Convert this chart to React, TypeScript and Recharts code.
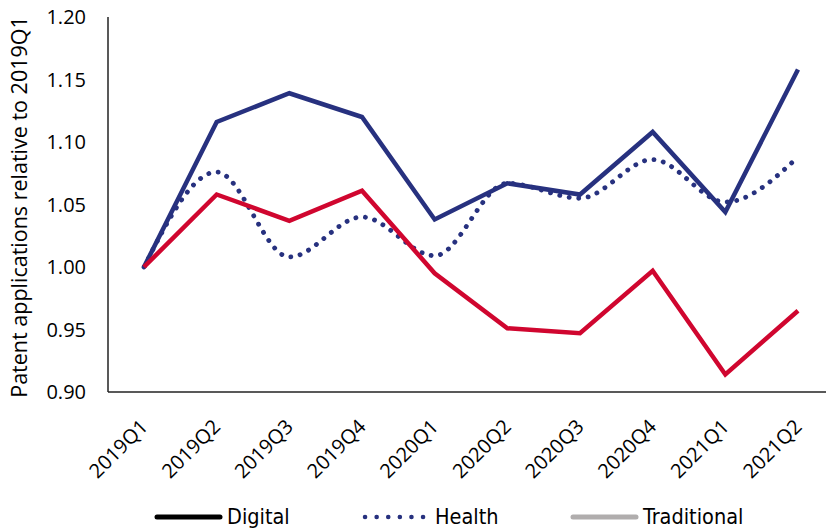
import { LineChart, Line, XAxis, YAxis, Legend } from 'recharts';

const quarters = ['2019Q1', '2019Q2', '2019Q3', '2019Q4', '2020Q1', '2020Q2', '2020Q3', '2020Q4', '2021Q1', '2021Q2'];
const digital = [1.0, 1.116, 1.139, 1.12, 1.038, 1.067, 1.058, 1.108, 1.044, 1.158];
const health = [1.0, 1.076, 1.008, 1.04, 1.009, 1.067, 1.055, 1.086, 1.052, 1.088];
const traditional = [1.0, 1.058, 1.037, 1.061, 0.995, 0.951, 0.947, 0.997, 0.914, 0.965];
const yTicks = [0.9, 0.95, 1.0, 1.05, 1.1, 1.15, 1.2];

const NAVY = '#27317f';
const RED = '#d0062f';
const FONT = '"Open Sans", Lato, sans-serif';

const data = quarters.map((q, i) => ({
  q,
  digital: digital[i],
  health: health[i],
  traditional: traditional[i],
}));

function QuarterTick(props: any) {
  const { x, y, payload } = props;
  return (
    <text
      x={x + 5}
      y={y + 28}
      transform={`rotate(-45 ${x + 5} ${y + 28})`}
      textAnchor="end"
      fontSize={20}
      fontFamily={FONT}
      fill="#000"
    >
      {payload.value}
    </text>
  );
}

function AxisTitle() {
  return (
    <text
      x={27}
      y={207}
      transform="rotate(-90 27 207)"
      textAnchor="middle"
      fontSize={21.5}
      fontFamily={FONT}
      fill="#000"
    >
      Patent applications relative to 2019Q1
    </text>
  );
}

const legendItems = [
  { name: 'Digital', color: '#000', dotted: false, x: 157 },
  { name: 'Health', color: NAVY, dotted: true, x: 365 },
  { name: 'Traditional', color: '#b0adad', dotted: false, x: 573 },
];

function ChartLegend() {
  return (
    <svg width={826} height={40} style={{ display: 'block', overflow: 'visible' }}>
      {legendItems.map(item => (
        <g key={item.name}>
          <line
            x1={item.x}
            x2={item.x + 63}
            y1={27}
            y2={27}
            stroke={item.color}
            strokeWidth={item.dotted ? 4.5 : 5}
            strokeLinecap="round"
            strokeDasharray={item.dotted ? '0.1 11.5' : undefined}
          />
          <text
            x={item.x + 70}
            y={34}
            fontSize={21.5}
            fontFamily='"DejaVu Sans Condensed", "DejaVu Sans", sans-serif'
            fill="#000"
          >
            {item.name}
          </text>
        </g>
      ))}
    </svg>
  );
}

export default function App() {
  return (
    <div style={{ position: 'absolute', top: 0, left: 0, width: 826, height: 530, overflow: 'hidden', background: '#fff' }}>
      <LineChart width={834} height={530} data={data} margin={{ top: 17, right: 0, bottom: 0, left: 0 }}>
        <XAxis
          dataKey="q"
          tick={<QuarterTick />}
          tickLine={false}
          interval={0}
          height={98}
          padding={{ left: 36, right: 36 }}
          axisLine={{ stroke: '#222', strokeWidth: 1.5 }}
        />
        <YAxis
          domain={[0.9, 1.2]}
          ticks={yTicks}
          width={108}
          tickLine={false}
          tickSize={0}
          tickMargin={22}
          tickFormatter={(v: number) => v.toFixed(2)}
          tick={{ fontSize: 20, fontFamily: FONT, fill: '#000' }}
          axisLine={{ stroke: '#222', strokeWidth: 1.5 }}
          label={<AxisTitle />}
        />
        <Legend
          verticalAlign="bottom"
          content={<ChartLegend />}
          wrapperStyle={{ position: 'absolute', top: 490, left: 0, width: 826, height: 40 }}
        />
        <Line
          dataKey="digital"
          name="Digital"
          type="linear"
          stroke={NAVY}
          strokeWidth={4.5}
          dot={false}
          isAnimationActive={false}
        />
        <Line
          dataKey="health"
          name="Health"
          type="monotone"
          stroke={NAVY}
          strokeWidth={4.8}
          strokeLinecap="round"
          strokeDasharray="0.1 9.5"
          dot={false}
          isAnimationActive={false}
        />
        <Line
          dataKey="traditional"
          name="Traditional"
          type="linear"
          stroke={RED}
          strokeWidth={4.5}
          dot={false}
          isAnimationActive={false}
        />
      </LineChart>
    </div>
  );
}
